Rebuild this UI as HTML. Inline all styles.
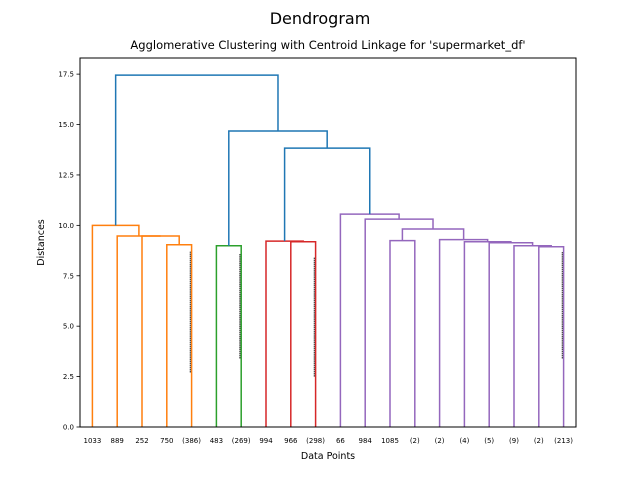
<!DOCTYPE html>
<html><head><meta charset="utf-8"><style>
body{margin:0;background:#fff;}
svg{display:block;font-family:"DejaVu Sans","Liberation Sans",sans-serif;}
</style></head><body>
<svg id="chart" width="640" height="480" viewBox="0 0 640 480">
<rect width="640" height="480" fill="#fff"/>
<text x="320" y="24" text-anchor="middle" font-size="16">Dendrogram</text>
<text x="328" y="49" text-anchor="middle" font-size="11.5">Agglomerative Clustering with Centroid Linkage for 'supermarket_df'</text>
<g id="marks"></g>
<g id="yaxis"></g>
<g id="xaxis"></g>
<rect x="80" y="58" width="496" height="369" fill="none" stroke="#000" stroke-width="1"/>
<text x="328" y="459" text-anchor="middle" font-size="9.5">Data Points</text>
<text transform="translate(44,242.5) rotate(-90)" text-anchor="middle" font-size="9.5">Distances</text>
</svg>
<script>
const leafLabels = ["1033","889","252","750","(386)","483","(269)","994","966","(298)","66","984","1085","(2)","(2)","(4)","(5)","(9)","(2)","(213)"];
const mergeLeft = [3,2,1,0,5,8,7,18,17,16,15,14,12,32,11,10,26,24,23];
const mergeRight = [4,20,21,22,6,9,25,19,27,28,29,30,13,31,33,34,35,36,37];
const mergeHeights = [9.04,9.47,9.47,10.0,8.99,9.19,9.22,8.94,8.99,9.14,9.19,9.29,9.24,9.82,10.31,10.56,13.83,14.68,17.45];
const mergeColors = ["#ff7f0e","#ff7f0e","#ff7f0e","#ff7f0e","#2ca02c","#d62728","#d62728","#9467bd","#9467bd","#9467bd","#9467bd","#9467bd","#9467bd","#9467bd","#9467bd","#9467bd","#1f77b4","#1f77b4","#1f77b4"];
const yTicks = [0,2.5,5,7.5,10,12.5,15,17.5];
const yTickLabels = ["0.0","2.5","5.0","7.5","10.0","12.5","15.0","17.5"];
const contractedLeaf = [4,6,9,19];
const contractedLow = [2.7,3.4,2.5,3.4];
const contractedHigh = [8.7,8.6,8.4,8.7];

const NS="http://www.w3.org/2000/svg";
const X0=80,W=496,Y0=427,H=369,YMAX=18.3;
const xLeaf=i=>X0+(10*i+5)*W/(leafLabels.length*10);
const yS=v=>Y0-v/YMAX*H;
function mk(tag,attrs,parent){const e=document.createElementNS(NS,tag);for(const k in attrs)e.setAttribute(k,attrs[k]);parent.appendChild(e);return e;}
const marks=document.getElementById('marks');
const nodeX=leafLabels.map((_,i)=>xLeaf(i));
const nodeH=leafLabels.map(()=>0);
for(let m=0;m<mergeHeights.length;m++){
  const a=mergeLeft[m],b=mergeRight[m],h=mergeHeights[m];
  const xa=nodeX[a],xb=nodeX[b];
  const d=`M${xa},${yS(nodeH[a])}L${xa},${yS(h)}L${xb},${yS(h)}L${xb},${yS(nodeH[b])}`;
  const p=mk('path',{d:d,fill:'none',stroke:mergeColors[m],'stroke-width':1.5},marks);
  
  
  nodeX.push((xa+xb)/2);nodeH.push(h);
}
for(let i=0;i<contractedLeaf.length;i++){
  const x=xLeaf(contractedLeaf[i])-1.3;
  const l=mk('line',{x1:x,x2:x,y1:yS(contractedLow[i]),y2:yS(contractedHigh[i]),stroke:'#333','stroke-width':1.1,'stroke-dasharray':'1.5,0.6'},marks);
  
  
}
const ya=document.getElementById('yaxis');
yTicks.forEach((t,i)=>{
  const y=yS(t);
  const l=mk('line',{x1:X0-3.5,x2:X0,y1:y,y2:y,stroke:'#000','stroke-width':0.8},ya);
  
  
  const tx=mk('text',{x:X0-6,y:y+2.5,'text-anchor':'end','font-size':7},ya);
  tx.textContent=yTickLabels[i];
  
  
});
const xa=document.getElementById('xaxis');
leafLabels.forEach((s,i)=>{
  const tx=mk('text',{x:xLeaf(i),y:443,'text-anchor':'middle','font-size':7},xa);
  tx.textContent=s;
  
  
});
</script>
</body></html>
